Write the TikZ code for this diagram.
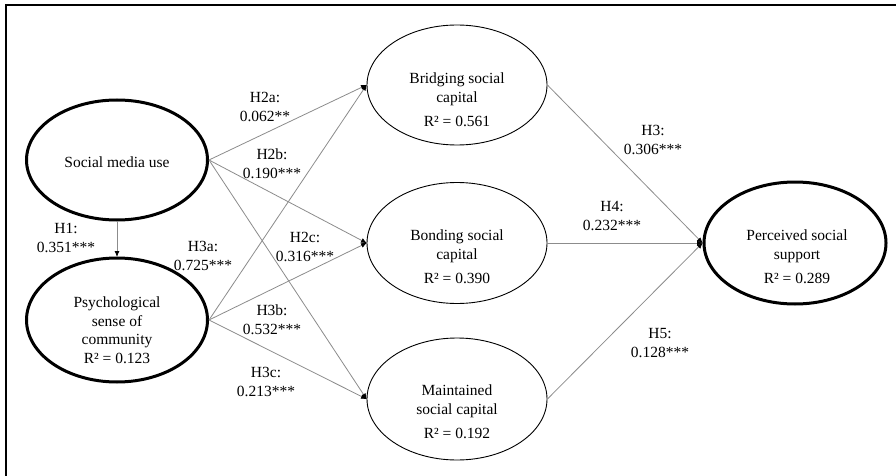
\documentclass[tikz,border=0pt]{standalone}
\usepackage{fontspec}
\setmainfont{Liberation Serif}
\usetikzlibrary{arrows.meta,shapes.geometric}
\begin{document}
\begin{tikzpicture}[x=1pt,y=-1pt,
  every node/.style={font=\fontsize{15.5}{19}\selectfont},
  thickell/.style={ellipse,draw=black,line width=3pt,inner sep=0pt},
  thinell/.style={ellipse,draw=black,line width=0.9pt,inner sep=0pt},
  txt/.style={align=center,inner sep=0pt},
  lab/.style={align=center,inner sep=0pt},
  path/.style={draw=black!45,line width=0.8pt,-{Latex[length=6pt,width=5pt,color=black]},shorten >=-0.5pt}
]
\useasboundingbox (0,0) rectangle (896,476);
\fill[white] (0,0) rectangle (896,476);
% frame (partially cropped)
\draw[line width=2pt] (6,476) -- (6,5) -- (896,5);

% ellipses
\node[thickell,minimum width=181pt,minimum height=120pt] (soc) at (117,160) {};
\node[thickell,minimum width=181pt,minimum height=124pt] (psy) at (117,320) {};
\node[thinell,minimum width=180pt,minimum height=120pt] (bri) at (457,85) {};
\node[thinell,minimum width=180pt,minimum height=121pt] (bon) at (457,243) {};
\node[thinell,minimum width=180pt,minimum height=122pt] (mai) at (457,399) {};
\node[thickell,minimum width=182pt,minimum height=122pt] (per) at (795,243) {};

% texts
\node[txt] (socT) at (117,162) {Social media use};
\node[txt,font=\fontsize{15.5}{18.5}\selectfont] (psyT) at (117,330) {Psychological\\sense of\\community\\R² = 0.123};
\node[txt] (briT) at (457,100) {Bridging social\\capital\\[5pt]R² = 0.561};
\node[txt] (bonT) at (457,257) {Bonding social\\capital\\[5pt]R² = 0.390};
\node[txt] (maiT) at (457,412) {Maintained\\social capital\\[5pt]R² = 0.192};
\node[txt] (perT) at (797,257) {Perceived social\\support\\[5pt]R² = 0.289};

% connectors
\draw[path] (soc.south) -- (psy.north);
\draw[path] (soc.east) -- (bri.west);
\draw[path] (soc.east) -- (bon.west);
\draw[path] (soc.east) -- (mai.west);
\draw[path] (psy.east) -- (bri.west);
\draw[path] (psy.east) -- (bon.west);
\draw[path] (psy.east) -- (mai.west);
\draw[path] (bri.east) -- (per.west);
\draw[path] (bon.east) -- (per.west);
\draw[path] (mai.east) -- (per.west);

% labels
\node[lab] (lH1) at (66,238) {H1:\\0.351***};
\node[lab] (lH2a) at (265,107) {H2a:\\0.062**};
\node[lab] (lH2b) at (272,164) {H2b:\\0.190***};
\node[lab] (lH2c) at (305,247) {H2c:\\0.316***};
\node[lab] (lH3a) at (203,256) {H3a:\\0.725***};
\node[lab] (lH3b) at (272,320) {H3b:\\0.532***};
\node[lab] (lH3c) at (266,382) {H3c:\\0.213***};
\node[lab] (lH3) at (653,140) {H3:\\0.306***};
\node[lab] (lH4) at (612,216) {H4:\\0.232***};
\node[lab] (lH5) at (660,343) {H5:\\0.128***};
\end{tikzpicture}
\end{document}
